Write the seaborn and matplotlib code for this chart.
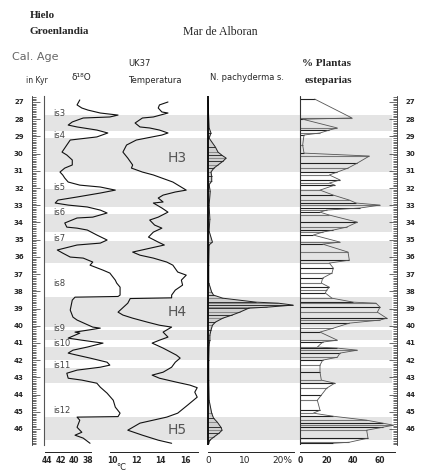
import matplotlib
matplotlib.use("Agg")
import matplotlib.pyplot as plt
import seaborn as sns
from matplotlib.ticker import FixedLocator, NullFormatter

# --- data (age in kyr) ---
d18o_age = [26.88, 27.17, 27.35, 27.47, 27.64, 27.76, 27.87, 27.93, 28.16, 28.34, 28.45, 28.63,
            28.80, 29.03, 29.21, 29.50, 29.91, 30.08, 30.37, 30.66, 30.84, 31.07, 31.24, 31.42,
            31.65, 31.83, 31.94, 32.12, 32.29, 32.52, 32.70, 32.87, 32.99, 33.10, 33.28, 33.45,
            33.69, 33.74, 34.03, 34.27, 34.33, 34.44, 34.73, 35.02, 35.20, 35.31, 35.60, 35.78,
            36.01, 36.07, 36.30, 36.48, 36.77, 36.94, 37.35, 37.52, 37.76, 38.22, 38.30, 38.34,
            38.51, 39.09, 39.50, 39.67, 40.08, 40.14, 40.26, 40.37, 40.43, 40.72, 40.84, 41.01,
            41.24, 41.42, 41.59, 41.71, 41.88, 42.12, 42.29, 42.41, 42.58, 42.76, 43.05, 43.16,
            43.34, 43.57, 43.92, 44.33, 44.73, 45.08, 45.28, 45.31, 45.49, 45.90, 46.19, 46.36,
            46.53, 46.83]
d18o = [-39.2, -39.6, -38.9, -38.0, -36.2, -33.6, -34.8, -38.7, -40.3, -40.9, -39.6, -36.7,
        -35.1, -36.7, -40.6, -41.1, -41.8, -41.1, -40.3, -40.3, -41.4, -42.1, -41.7, -41.4,
        -40.9, -39.2, -36.2, -34.0, -36.2, -39.6, -42.4, -42.8, -40.9, -38.1, -36.2, -35.2,
        -37.3, -39.6, -41.4, -41.1, -39.6, -38.1, -36.7, -35.2, -36.2, -39.6, -42.5, -41.7,
        -40.6, -38.7, -37.3, -37.7, -35.8, -34.8, -34.0, -33.8, -33.3, -33.3, -33.6, -39.9,
        -40.3, -40.6, -40.2, -39.6, -37.3, -36.2, -38.1, -39.9, -39.2, -40.9, -38.9, -35.8,
        -38.1, -40.2, -40.9, -39.6, -37.7, -35.2, -34.8, -36.2, -39.6, -41.1, -40.9, -38.9,
        -36.7, -36.2, -35.2, -34.3, -34.0, -33.3, -33.6, -39.6, -39.2, -39.6, -38.9, -39.9,
        -38.7, -37.7]

uk37_age = [27.00, 27.17, 27.35, 27.58, 27.64, 27.87, 27.93, 28.22, 28.45, 28.51, 28.63, 28.80,
            28.92, 29.03, 29.21, 29.50, 29.91, 30.26, 30.66, 30.84, 31.07, 31.24, 31.42, 31.65,
            32.12, 32.23, 32.41, 32.58, 32.81, 32.87, 33.16, 33.40, 33.69, 33.86, 34.15, 34.33,
            34.56, 34.85, 35.14, 35.31, 35.72, 35.90, 36.07, 36.30, 36.48, 36.88, 37.06, 37.35,
            37.64, 37.93, 38.22, 38.38, 38.42, 38.69, 39.21, 39.38, 39.56, 39.79, 39.97, 40.08,
            40.37, 40.66, 40.84, 41.01, 41.30, 41.71, 41.88, 42.12, 42.41, 42.70, 42.87, 43.05,
            43.28, 43.45, 43.60, 43.86, 44.15, 44.62, 45.08, 45.31, 45.66, 46.07, 46.36, 46.65,
            46.83]
uk37_temp = [14.6, 13.9, 13.8, 14.1, 14.6, 13.4, 12.5, 11.9, 12.3, 13.1, 13.9, 14.6,
             14.1, 13.3, 12.0, 11.2, 10.9, 11.3, 11.7, 11.6, 12.5, 13.4, 14.1, 15.0,
             16.1, 15.2, 14.2, 13.8, 14.2, 13.4, 14.1, 14.6, 13.8, 13.1, 13.5, 14.1,
             13.4, 13.0, 13.8, 14.3, 11.7, 12.3, 13.4, 14.5, 15.0, 15.4, 16.1, 15.7,
             15.8, 15.2, 14.9, 14.9, 11.5, 11.3, 10.5, 10.9, 11.7, 12.9, 13.9, 14.9,
             14.2, 14.6, 13.9, 13.3, 14.2, 15.3, 15.6, 15.2, 14.9, 14.2, 13.3, 13.9,
             15.3, 16.4, 17.0, 16.8, 17.0, 16.2, 15.4, 14.5, 12.3, 11.3, 12.5, 13.8,
             14.9]

pachy_age = [26.90, 28.50, 28.80, 29.10, 29.62, 29.91, 30.10, 30.26, 30.43, 30.66, 30.84, 31.07,
             31.30, 31.60, 31.80, 32.20, 33.00, 33.80, 34.50, 35.14, 35.30, 36.50, 37.50, 38.05,
             38.22, 38.40, 38.63, 38.69, 38.80, 38.92, 38.98, 39.21, 39.38, 39.56, 39.79, 39.97,
             40.26, 40.55, 40.84, 41.13, 42.00, 43.16, 44.33, 45.08, 45.37, 45.60, 45.90, 46.07,
             46.24, 46.48, 46.65, 46.83]
pachy_pct = [0.0, 0.3, 0.8, 0.3, 2.0, 2.7, 3.8, 4.9, 4.1, 2.7, 1.6, 0.8,
             1.0, 1.0, 0.3, 0.6, 0.3, 0.5, 0.3, 1.2, 0.3, 0.2, 0.2, 1.0,
             1.5, 4.0, 13.0, 19.0, 23.0, 16.0, 11.0, 8.6, 6.5, 4.0, 2.0, 1.2,
             0.8, 0.5, 0.5, 0.3, 0.2, 0.2, 0.3, 1.0, 1.5, 2.5, 3.5, 3.8,
             3.0, 1.5, 0.5, 0.2]

steppe_age = [26.83, 27.93, 28.00, 28.51, 28.63, 28.80, 28.92, 29.50, 29.97, 30.14, 30.55, 30.84,
              31.07, 31.24, 31.53, 31.71, 31.83, 32.12, 32.41, 32.70, 32.87, 32.99, 33.16, 33.28,
              33.40, 33.57, 33.98, 34.27, 34.44, 34.56, 34.73, 35.14, 35.26, 35.72, 36.19, 36.36,
              36.65, 36.94, 37.23, 37.52, 37.76, 37.93, 38.10, 38.40, 38.63, 38.69, 38.92, 39.21,
              39.56, 39.67, 39.85, 40.14, 40.37, 40.84, 40.95, 41.24, 41.30, 41.42, 41.59, 41.83,
              42.00, 42.29, 42.70, 43.16, 43.34, 43.63, 44.03, 44.33, 44.91, 45.08, 45.26, 45.49,
              45.66, 45.78, 45.90, 46.07, 46.53, 46.77, 46.83]
steppe_pct = [11, 39, 2, 28, 22, 15, 3, 2, 3, 52, 43, 36,
              28, 22, 30, 22, 26, 15, 25, 37, 42, 60, 45, 20,
              15, 22, 43, 35, 25, 17, 10, 30, 17, 36, 37, 22,
              25, 24, 17, 16, 22, 20, 19, 24, 40, 57, 60, 58,
              65, 60, 37, 25, 15, 28, 17, 13, 28, 43, 30, 28,
              17, 15, 15, 16, 26, 20, 16, 13, 15, 10, 25, 50,
              62, 70, 62, 50, 51, 37, 25]

band_start = [27.76, 29.09, 32.06, 33.51, 35.08, 38.34, 40.26, 41.24, 42.47, 45.31]
band_end = [28.69, 31.07, 33.10, 34.56, 36.36, 40.08, 40.84, 42.00, 43.34, 46.65]

is_labels = ["is3", "is4", "is5", "is6", "is7", "is8", "is9", "is10", "is11", "is12"]
is_ages = [27.64, 28.92, 31.94, 33.40, 34.91, 37.52, 40.14, 41.01, 42.29, 44.91]
h_labels = ["H3", "H4", "H5"]
h_ages = [30.26, 39.20, 46.07]
age_ticks = list(range(27, 47))

sns.set_style("white")
plt.rcParams['font.family'] = ['DejaVu Sans']

W, H = 437, 476
TOP, BOT = 96, 445
PX_KYR = 17.21
age_top = 27 + (TOP - 102) / PX_KYR
age_bot = 27 + (BOT - 102) / PX_KYR

fig = plt.figure(figsize=(W / 100, H / 100), dpi=100)


def box(x0, x1):
    return [x0 / W, 1 - BOT / H, (x1 - x0) / W, (BOT - TOP) / H]


def ftext(x, y, s, **kw):
    fig.text(x / W, 1 - y / H, s, va="center", ha="left", **kw)


# shaded bands + vertical line at the left
bg = fig.add_axes(box(44, 392))
bg.set_ylim(age_bot, age_top)
bg.set_xlim(0, 1)
for a, b in zip(band_start, band_end):
    bg.axhspan(a, b, color="#e4e4e4", lw=0)
for s in ["top", "right", "bottom"]:
    bg.spines[s].set_visible(False)
bg.spines["left"].set_color("#555")
bg.spines["left"].set_linewidth(0.8)
bg.set_xticks([])
bg.set_yticks([])

# age rulers left and right
ruler = fig.add_axes(box(32, 397), facecolor="none")
ruler.set_ylim(age_bot, age_top)
ruler.set_xticks([])
for s in ["top", "bottom"]:
    ruler.spines[s].set_visible(False)
for s in ["left", "right"]:
    ruler.spines[s].set_linewidth(0.6)
    ruler.spines[s].set_color("#333")
ruler.yaxis.set_major_locator(FixedLocator(age_ticks))
ruler.yaxis.set_minor_locator(FixedLocator([a / 10 for a in range(267, 470)]))
ruler.yaxis.set_ticks_position("both")
ruler.tick_params(axis="y", which="both", direction="in", labelleft=True, labelright=True,
                  width=0.5, color="#333")
ruler.tick_params(axis="y", which="major", length=6, pad=6, labelsize=5)
ruler.tick_params(axis="y", which="minor", length=3)
for t in ruler.get_yticklabels():
    t.set_fontweight("bold")


def panel(x0, x1, xlim, bounds, major, minor, labels, bold=True, size=5.5):
    ax = fig.add_axes(box(x0, x1), facecolor="none")
    ax.set_ylim(age_bot, age_top)
    ax.set_xlim(*xlim)
    for s in ["top", "right", "left"]:
        ax.spines[s].set_visible(False)
    ax.spines["bottom"].set_position(("outward", 5))
    ax.spines["bottom"].set_bounds(*bounds)
    ax.spines["bottom"].set_linewidth(0.7)
    ax.spines["bottom"].set_color("#222")
    ax.set_yticks([])
    ax.xaxis.set_major_locator(FixedLocator(major))
    ax.xaxis.set_minor_locator(FixedLocator(minor))
    ax.set_xticklabels(labels, fontsize=size, fontweight="bold" if bold else "normal")
    ax.xaxis.set_minor_formatter(NullFormatter())
    ax.tick_params(axis="x", which="both", direction="in", width=0.6, color="#222", pad=3)
    ax.tick_params(axis="x", which="major", length=4)
    ax.tick_params(axis="x", which="minor", length=2.5)
    ax.set_xlabel("")
    ax.set_ylabel("")
    return ax


# Greenland d18O
ax1 = panel(44, 125, (-44.44, -32.58), (-44.3, -37.6), [-44, -42, -40, -38], [-43, -41, -39],
            ["44", "42", "40", "38"])
sns.lineplot(x=d18o, y=d18o_age, orient="y", sort=False, estimator=None, ax=ax1,
             color="#111", lw=0.8)
for lab, a in zip(is_labels, is_ages):
    ax1.text(-43.1, a, lab, fontsize=6, color="#444", va="center", ha="left")

# UK37 temperature
ax2 = panel(110, 205, (9.84, 17.64), (9.8, 17.1), [10, 12, 14, 16], [11, 13, 15, 17],
            ["10", "12", "14", "16"])
sns.lineplot(x=uk37_temp, y=uk37_age, orient="y", sort=False, estimator=None, ax=ax2,
             color="#111", lw=0.8)
for lab, a in zip(h_labels, h_ages):
    ax2.text(14.6, a, lab, fontsize=10, color="#555", va="center", ha="left")

# N. pachyderma s.
ax3 = panel(205, 298, (-0.81, 24.32), (0, 23.3), [0, 10, 20], [5, 15],
            ["0", "10", "20%"], bold=False, size=6.5)
ax3.fill_betweenx(pachy_age, 0, pachy_pct, color="#cfcfcf", lw=0)
ax3.hlines(pachy_age, 0, pachy_pct, colors=["#333", "#888"] * (len(pachy_age) // 2 + 1),
           lw=0.7)
sns.lineplot(x=pachy_pct, y=pachy_age, orient="y", sort=False, estimator=None, ax=ax3,
             color="#222", lw=0.7)
ax3.axvline(0, color="k", lw=1.3)

# steppe plants
ax4 = panel(298, 400, (-1.5, 75), (0, 71), [0, 20, 40, 60], [10, 30, 50, 70],
            ["0", "20", "40", "60"])
ax4.hlines(steppe_age, 0, steppe_pct, colors=["#222", "#777"] * (len(steppe_age) // 2 + 1),
           lw=0.8)
sns.lineplot(x=steppe_pct, y=steppe_age, orient="y", sort=False, estimator=None, ax=ax4,
             color="#555", lw=0.6)
ax4.axvline(0, color="#333", lw=0.8)

# headers
serif = ["Liberation Serif", "DejaVu Serif"]
ftext(30, 15, "Hielo", family=serif, fontsize=8, fontweight="bold")
ftext(30, 32, "Groenlandia", family=serif, fontsize=8, fontweight="bold")
ftext(183, 32, "Mar de Alboran", family=serif, fontsize=8.5)
ftext(12, 57, "Cal. Age", fontsize=8, color="#666")
ftext(26, 80, "in Kyr", fontsize=5.5)
ftext(72, 77, "δ¹⁸O", fontsize=6.5)
ftext(128, 64, "UK37", fontsize=6)
ftext(128, 80, "Temperatura", fontsize=6)
ftext(210, 77, "N. pachyderma s.", fontsize=6)
ftext(302, 63, "% Plantas", family=serif, fontsize=8, fontweight="bold")
ftext(305, 80, "esteparias", family=serif, fontsize=8, fontweight="bold")
ftext(116, 468, "°C", fontsize=6)

fig.savefig("out.png", dpi=100)
